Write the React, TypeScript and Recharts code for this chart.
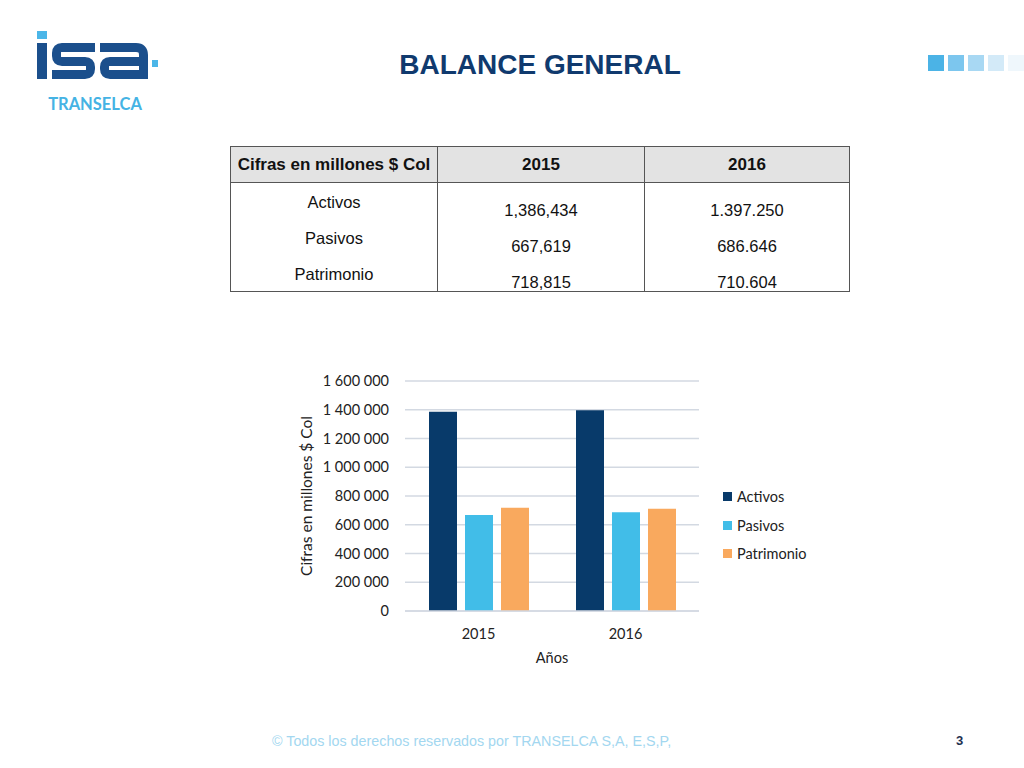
import { BarChart, Bar, XAxis, YAxis, CartesianGrid, Label } from "recharts";

const years = ["2015", "2016"];
const activos = [1386434, 1397250];
const pasivos = [667619, 686646];
const patrimonio = [718815, 710604];
const yTicks = [0, 200000, 400000, 600000, 800000, 1000000, 1200000, 1400000, 1600000];

const tableRows = ["Activos", "Pasivos", "Patrimonio"];
const table2015 = ["1,386,434", "667,619", "718,815"];
const table2016 = ["1.397.250", "686.646", "710.604"];

const series = [
  { key: "activos", name: "Activos", color: "#083a6a" },
  { key: "pasivos", name: "Pasivos", color: "#41bde8" },
  { key: "patrimonio", name: "Patrimonio", color: "#f9a95e" },
];

const data = years.map((y, i) => ({
  year: y,
  activos: activos[i],
  pasivos: pasivos[i],
  patrimonio: patrimonio[i],
}));

const fmt = (v: number) => v.toLocaleString("en-US").replace(/,/g, " ");

const headerCell: React.CSSProperties = {
  border: "1px solid #555",
  background: "#e3e3e3",
  fontWeight: "bold",
  fontSize: 17,
  height: 35,
  padding: 0,
  textAlign: "center",
};

const Logo = () => (
  <svg width={170} height={100} style={{ position: "absolute", left: 20, top: 20 }}>
    <g transform="translate(-20,-20)">
      <rect x={37} y={31} width={10} height={8} fill="#4bb6e8" />
      <rect x={37} y={43} width={10} height={36} fill="#1b4f8c" />
      <path
        d="M95,47.5 H62 Q56.5,47.5 56.5,53 V56 Q56.5,61.5 62,61.5 H85 Q90.5,61.5 90.5,67 V69 Q90.5,74.5 85,74.5 H52"
        stroke="#1b4f8c"
        strokeWidth={9}
        fill="none"
      />
      <path d="M100,47.5 H136 Q143.5,47.5 143.5,55 V79" stroke="#1b4f8c" strokeWidth={9} fill="none" />
      <path
        d="M143.5,61.5 H110 Q104.5,61.5 104.5,67 V69 Q104.5,74.5 110,74.5 H143.5"
        stroke="#1b4f8c"
        strokeWidth={9}
        fill="none"
      />
      <rect x={152} y={60} width={6} height={7} fill="#4bb6e8" />
      <text x={95} y={110} textAnchor="middle" fontFamily="Lato" fontWeight="bold" fontSize={16.5} fill="#45b3e4">
        TRANSELCA
      </text>
    </g>
  </svg>
);

const squares = ["#4bb3e6", "#7cc6ee", "#a8d8f3", "#d3eaf8", "#eff7fc"];

export default function App() {
  return (
    <div
      style={{
        position: "absolute",
        left: 0,
        top: 0,
        width: 1024,
        height: 768,
        background: "#fff",
        fontFamily: "'Liberation Sans', Arial, sans-serif",
        overflow: "hidden",
      }}
    >
      <Logo />
      <div
        style={{
          position: "absolute",
          left: 340,
          top: 47,
          width: 400,
          textAlign: "center",
          fontSize: 28,
          fontWeight: "bold",
          color: "#103a6e",
          lineHeight: "36px",
        }}
      >
        BALANCE GENERAL
      </div>
      {squares.map((c, i) => (
        <div
          key={i}
          style={{ position: "absolute", left: 928 + i * 20, top: 55, width: 16, height: 16, background: c }}
        />
      ))}

      <table
        style={{
          position: "absolute",
          left: 230,
          top: 146,
          width: 620,
          borderCollapse: "collapse",
          fontFamily: "'Liberation Sans', Arial, sans-serif",
          color: "#111",
        }}
      >
        <tbody>
          <tr>
            <td style={{ ...headerCell, width: 206 }}>Cifras en millones $ Col</td>
            <td style={{ ...headerCell, width: 206 }}>2015</td>
            <td style={headerCell}>2016</td>
          </tr>
          <tr>
            {[tableRows, table2015, table2016].map((col, ci) => (
              <td
                key={ci}
                style={{
                  border: "1px solid #555",
                  textAlign: "center",
                  verticalAlign: "top",
                  padding: ci === 0 ? "10px 0 0 0" : "18px 0 0 0",
                  height: 108,
                  boxSizing: "border-box",
                  fontSize: 16.5,
                }}
              >
                <div style={{ display: "flex", flexDirection: "column", gap: 18 }}>
                  {col.map((t) => (
                    <div key={t} style={{ height: 18, lineHeight: "18px" }}>
                      {t}
                    </div>
                  ))}
                </div>
              </td>
            ))}
          </tr>
        </tbody>
      </table>

      <div style={{ position: "absolute", left: 290, top: 360 }}>
        <BarChart
          width={420}
          height={320}
          data={data}
          margin={{ top: 21, right: 11, left: 0, bottom: 9 }}
          barCategoryGap={24}
          barGap={8}
        >
          <CartesianGrid vertical={false} stroke="#d3d9e2" strokeWidth={1.3} />
          <XAxis
            dataKey="year"
            height={60}
            tickLine={false}
            axisLine={{ stroke: "#d3d9e2", strokeWidth: 1.3 }}
            tickMargin={12}
            tick={{ fontFamily: "Lato", fontSize: 14.5, fill: "#222" }}
          >
            <Label
              value="Años"
              position="insideBottom"
              offset={8}
              style={{ fontFamily: "Lato", fontSize: 14.5, fill: "#222" }}
            />
          </XAxis>
          <YAxis
            width={115}
            domain={[0, 1600000]}
            ticks={yTicks}
            tickFormatter={fmt}
            axisLine={false}
            tickLine={false}
            tickMargin={10}
            tick={{ fontFamily: "Lato", fontSize: 14.5, fill: "#222" }}
          >
            <Label
              content={(props: any) => {
                const vb = props.viewBox || {};
                const cx = vb.x + 16;
                const cy = vb.y + vb.height / 2;
                return (
                  <text
                    x={cx}
                    y={cy}
                    transform={`rotate(-90 ${cx} ${cy})`}
                    textAnchor="middle"
                    dominantBaseline="central"
                    fontFamily="Lato"
                    fontSize={15.5}
                    fill="#222"
                  >
                    Cifras en millones $ Col
                  </text>
                );
              }}
            />
          </YAxis>
          {series.map((s) => (
            <Bar key={s.key} dataKey={s.key} name={s.name} fill={s.color} isAnimationActive={false} />
          ))}
        </BarChart>
      </div>

      <div style={{ position: "absolute", left: 723, top: 482, fontFamily: "Lato", fontSize: 14.5, color: "#222" }}>
        {series.map((s) => (
          <div key={s.key} style={{ display: "flex", alignItems: "center", height: 28.7 }}>
            <span style={{ width: 9, height: 9, background: s.color, marginRight: 5 }} />
            {s.name}
          </div>
        ))}
      </div>

      <div
        style={{
          position: "absolute",
          left: 272,
          top: 733,
          fontSize: 14.3,
          color: "#a3d7f0",
          whiteSpace: "nowrap",
        }}
      >
        © Todos los derechos reservados por TRANSELCA S,A, E,S,P,
      </div>
      <div style={{ position: "absolute", left: 956, top: 733, fontSize: 13, fontWeight: "bold", color: "#1f3050" }}>
        3
      </div>
    </div>
  );
}
